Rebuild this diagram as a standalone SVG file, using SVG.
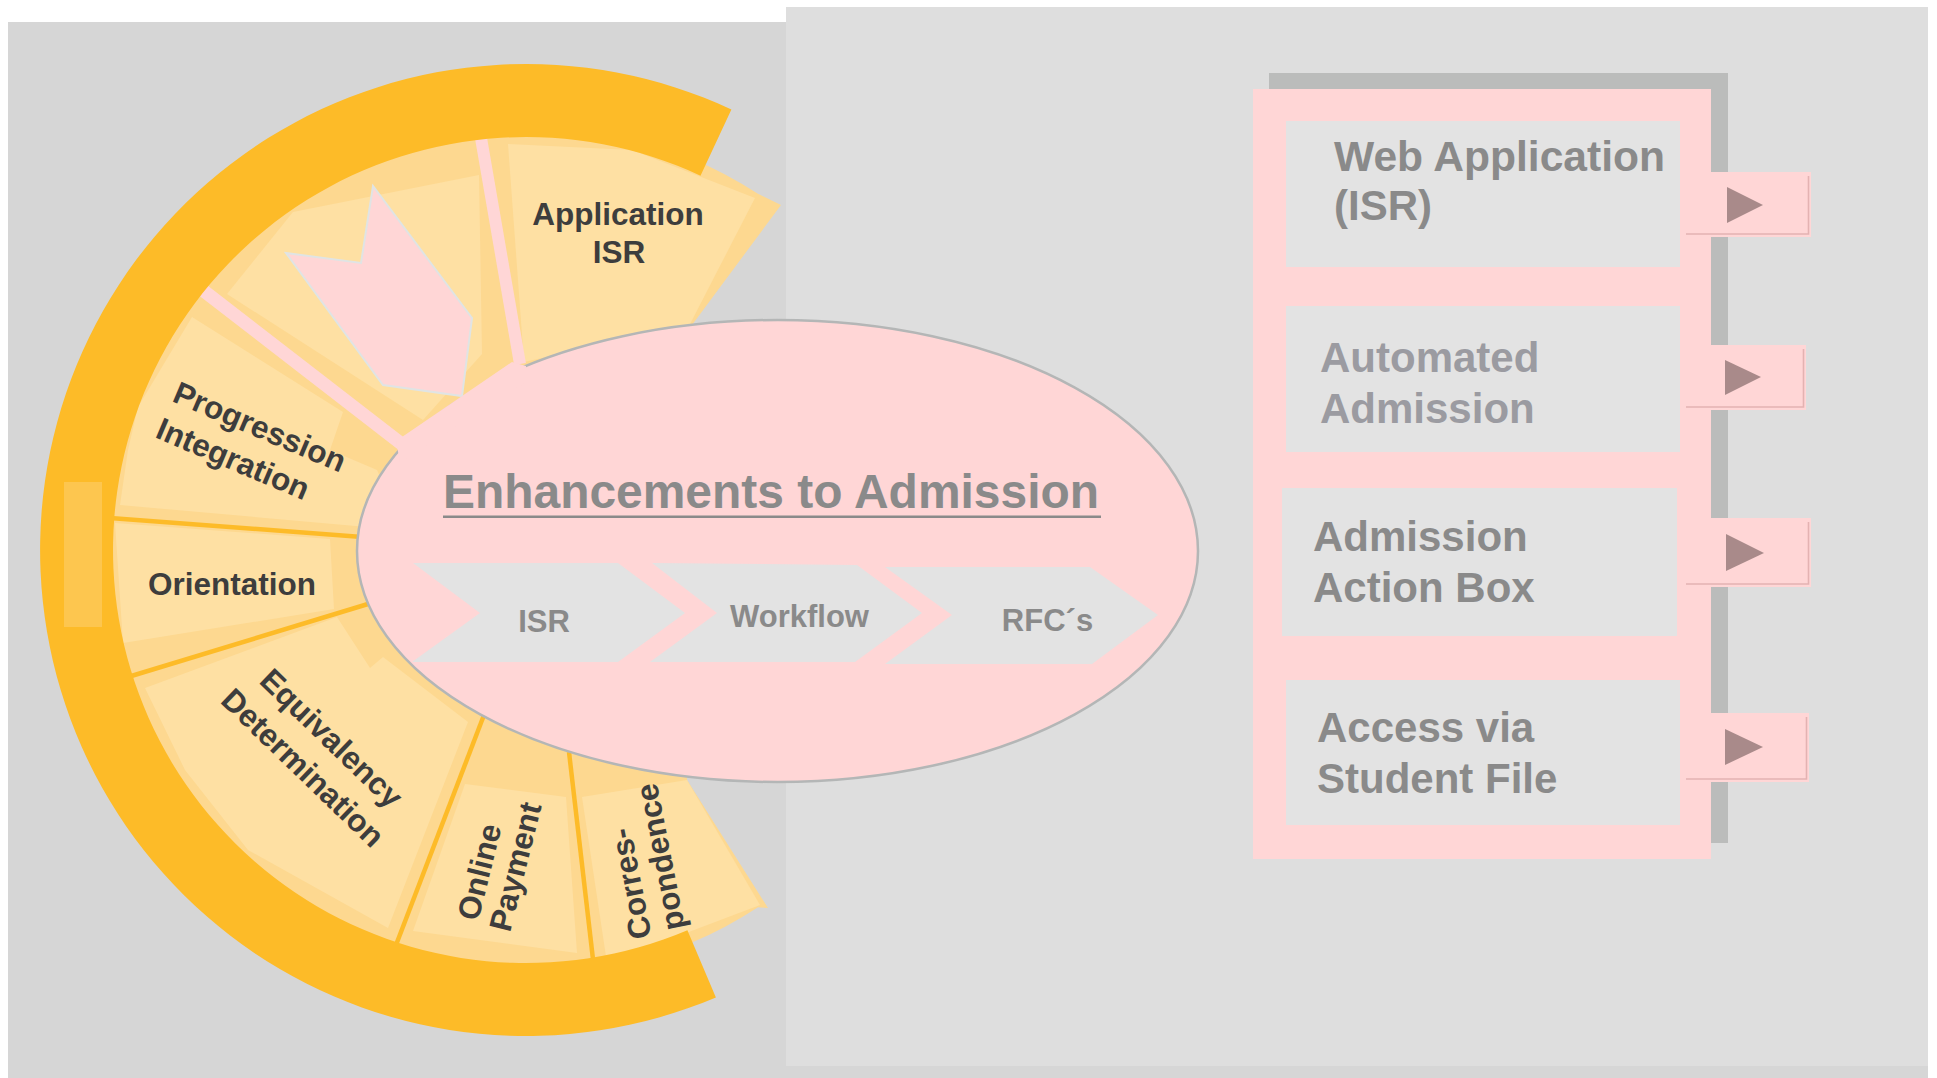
<svg xmlns="http://www.w3.org/2000/svg" width="1937" height="1078" viewBox="0 0 1937 1078">
<style>
.lab{font-family:"Liberation Sans",Arial,sans-serif;font-weight:bold;font-size:31.5px;fill:#3d3d3d}
.chev{fill:#e3e3e3}
.chevt{font-family:"Liberation Sans",Arial,sans-serif;font-weight:bold;font-size:31px;fill:#8a8a8a;text-anchor:middle}
.box{fill:#e3e3e3}
.boxt{font-family:"Liberation Sans",Arial,sans-serif;font-weight:bold;font-size:42px;fill:#8a8a8a}
.btn{fill:#ffd6d6}
.bev{fill:none;stroke:#e4b2b2;stroke-width:1.6}
.tri{fill:#a98a8a}
.light{fill:#fee0a3}
.sepo{stroke:#fdbb28;stroke-width:4.5;fill:none}
.sepp{stroke:#ffd6d6;fill:none}
</style>
<rect x="0" y="0" width="1937" height="1078" fill="#ffffff"/>
<rect x="8" y="22" width="1920" height="1056" fill="#d6d6d6"/>
<rect x="786" y="7" width="1142" height="1059" fill="#dedede"/>

<g id="wheel">
  <path d="M781 205 L757.5 193.6 A426 426 0 1 0 758 907.3 L768 908 L687 780 L690 550 L692 325 Z" fill="#fdd890"/>
  <polygon class="light" points="508,144 632,150 755,198 688,328 600,345 524,362"/>
  <polygon class="light" points="293,212 479,175 482,354 423,420 227,294"/>
  <polygon class="light" points="192,317 343,412 330,450 377,470 400,520 367,527 120,505 128,450 138,407"/>
  <polygon class="light" points="115,523 330,539 334,609 123,643"/>
  <polygon class="light" points="145,688 337,617 370,668 383,657 468,722 388,928 248,850 185,770"/>
  <polygon class="light" points="465,784 566,797 577,953 413,931"/>
  <polygon class="light" points="582,797 687,780 760,905 607,963"/>
  <line class="sepp" x1="481" y1="138" x2="520" y2="364" stroke-width="12"/>
  <line class="sepp" x1="200" y1="288" x2="403" y2="445" stroke-width="13"/>
  <line class="sepo" x1="110" y1="518" x2="362" y2="537"/>
  <line class="sepo" x1="128" y1="677" x2="368" y2="604"/>
  <line class="sepo" x1="484" y1="715" x2="396" y2="945"/>
  <line class="sepo" x1="569" y1="752" x2="594" y2="968"/>
  <polygon points="286,253 361,263 373,186 472,318 462,396 383,385" fill="#ffd6d6" stroke="#e0e4e4" stroke-width="2"/>
  <path d="M731.4 109.5 A486 486 0 1 0 715.9 997.4 L687.4 930.2 A413 413 0 1 1 700.5 175.7 Z" fill="#fdbb28"/>
  <rect x="64" y="482" width="38" height="145" fill="#fdc64f"/>
</g>

<g id="labels-wheel">
  <text class="lab" x="618" y="225" text-anchor="middle">Application</text>
  <text class="lab" x="619" y="263" text-anchor="middle">ISR</text>
  <text class="lab" transform="translate(171,401) rotate(23)">Progression</text>
  <text class="lab" transform="translate(154,437) rotate(23)">Integration</text>
  <text class="lab" x="148" y="595">Orientation</text>
  <text class="lab" text-anchor="middle" transform="translate(324,746) rotate(44)">Equivalency</text>
  <text class="lab" text-anchor="middle" transform="translate(295.5,775.5) rotate(44)">Determination</text>
  <text class="lab" transform="translate(478,922) rotate(-76)">Online</text>
  <text class="lab" transform="translate(510,933) rotate(-76)">Payment</text>
  <text class="lab" transform="translate(651.7,936.7) rotate(-101)">Corres-</text>
  <text class="lab" transform="translate(685,928) rotate(-101)">pondence</text>
</g>

<g id="hub">
  <ellipse cx="777.5" cy="551" rx="420.5" ry="231" fill="#ffd6d6" stroke="#b4b6b6" stroke-width="2.5"/>
  <polygon points="396,441 402,437 512,362 526,366 526,382 400,462" fill="#ffd6d6"/>
  <text x="443" y="508" textLength="656" lengthAdjust="spacingAndGlyphs" style="font-family:'Liberation Sans',Arial,sans-serif;font-weight:bold;font-size:47.5px;fill:#8a8a8a">Enhancements to Admission</text>
  <rect x="443" y="515.5" width="658" height="2.5" fill="#8a8a8a"/>
</g>

<g id="chevron-isr">
  <polygon class="chev" points="413,563 618,563 685,613 618,662 412,662 480,613"/>
  <text class="chevt" x="544" y="632">ISR</text>
</g>
<g id="chevron-workflow">
  <polygon class="chev" points="652,563 857,565 922,613 855,662 650,662 717,613"/>
  <text class="chevt" x="799.5" y="627">Workflow</text>
</g>
<g id="chevron-rfc">
  <polygon class="chev" points="885,567 1090,567 1158,615 1092,664 885,664 952,615"/>
  <text class="chevt" x="1047.5" y="631">RFC´s</text>
</g>

<g id="panel">
  <rect x="1269" y="73" width="459" height="770" fill="#bbbcbb"/>
  <rect x="1253" y="89" width="458" height="770" fill="#ffd6d6"/>
</g>

<g id="box-web">
  <rect class="box" x="1286" y="121" width="394" height="146"/>
  <text class="boxt" x="1334" y="171" textLength="331" lengthAdjust="spacingAndGlyphs">Web Application</text>
  <text class="boxt" x="1334" y="220">(ISR)</text>
</g>
<g id="box-auto">
  <rect class="box" x="1286" y="306" width="394" height="146"/>
  <text class="boxt" x="1320" y="372" style="fill:#9b9ba1">Automated</text>
  <text class="boxt" x="1320" y="423" style="fill:#9b9ba1">Admission</text>
</g>
<g id="box-action">
  <rect class="box" x="1282" y="488" width="395" height="148"/>
  <text class="boxt" x="1313" y="551">Admission</text>
  <text class="boxt" x="1313" y="602">Action Box</text>
</g>
<g id="box-access">
  <rect class="box" x="1286" y="680" width="394" height="145"/>
  <text class="boxt" x="1317" y="742">Access via</text>
  <text class="boxt" x="1317" y="793">Student File</text>
</g>

<g id="btn-1">
  <rect class="btn" x="1684" y="172" width="127" height="65"/>
  <polyline class="bev" points="1686,234 1808.5,234 1808.5,176"/>
  <polygon class="tri" points="1727,187 1763,205 1727,223"/>
</g>
<g id="btn-2">
  <rect class="btn" x="1684" y="345" width="122" height="65"/>
  <polyline class="bev" points="1686,407 1803.5,407 1803.5,349"/>
  <polygon class="tri" points="1725,360 1761,377 1725,395"/>
</g>
<g id="btn-3">
  <rect class="btn" x="1684" y="518" width="127" height="69"/>
  <polyline class="bev" points="1686,584 1808.5,584 1808.5,522"/>
  <polygon class="tri" points="1726,534 1764,553 1726,571"/>
</g>
<g id="btn-4">
  <rect class="btn" x="1684" y="713" width="125" height="69"/>
  <polyline class="bev" points="1686,779 1806.5,779 1806.5,717"/>
  <polygon class="tri" points="1725,729 1763,747 1725,765"/>
</g>
<g id="connectors"></g>
</svg>
